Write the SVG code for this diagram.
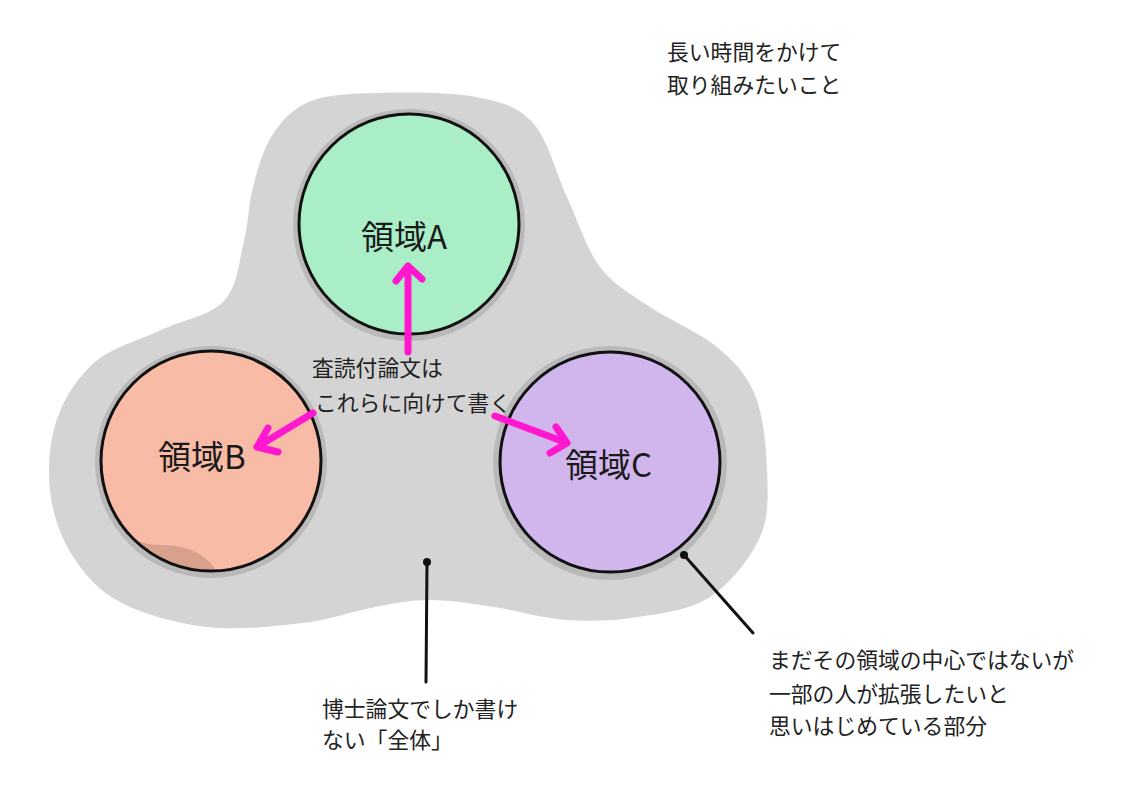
<svg xmlns="http://www.w3.org/2000/svg" width="1124" height="793" viewBox="0 0 1124 793">
<style>
.t{font-family:"Noto Sans CJK JP","Noto Sans",sans-serif;font-size:21.8px;fill:#222}
.lbl{font-family:"Noto Sans CJK JP","Noto Sans",sans-serif;font-size:33px;fill:#1a1a1a}
.halo{fill:#b9b9b9}
.ring{stroke:#111;stroke-width:3}
.arrow{fill:none;stroke:#ff18cf;stroke-width:7;stroke-linecap:round;stroke-linejoin:round}
.lead{fill:none;stroke:#111;stroke-width:3;stroke-linecap:round}
</style>
<defs>
<clipPath id="clipB"><circle cx="211" cy="461" r="110"/></clipPath>
</defs>
<rect width="1124" height="793" fill="#fff"/>
<g id="whole">
<path fill="#d4d4d4" d="M311,101 C328.7,94.2 351.5,93.7 379,93 C406.5,92.3 450.3,92 476,97 C501.7,102 517.8,106.3 533,123 C548.2,139.7 555.8,173 567,197 C578.2,221 586.2,248.7 600,267 C613.8,285.3 630.5,293.7 650,307 C669.5,320.3 699.5,332.3 717,347 C734.5,361.7 746.7,374.5 755,395 C763.3,415.5 766.2,446.3 767,470 C767.8,493.7 769.5,515.8 760,537 C750.5,558.2 730.3,583.7 710,597 C689.7,610.3 662,613.2 638,617 C614,620.8 590,621.7 566,620 C542,618.3 516.7,610.3 494,607 C471.3,603.7 449.8,600 430,600 C410.2,600 396.2,603.2 375,607 C353.8,610.8 331,619.7 303,623 C275,626.3 237.5,630.5 207,627 C176.5,623.5 142.5,614 120,602 C97.5,590 83.7,573.5 72,555 C60.3,536.5 52.5,513.7 50,491 C47.5,468.3 49.5,440.5 57,419 C64.5,397.5 77.7,376.8 95,362 C112.3,347.2 139.5,340.2 161,330 C182.5,319.8 210.2,315.8 224,301 C237.8,286.2 239.2,260 244,241 C248.8,222 248.2,204.8 253,187 C257.8,169.2 263.3,148.3 273,134 C282.7,119.7 293.3,107.8 311,101 Z"/>
</g>
<g id="nodeA">
<circle class="halo" cx="409" cy="225" r="116"/>
<circle class="ring" cx="409" cy="224" r="110" fill="#a9eec7"/>
<text class="lbl" x="361" y="249">領域A</text>
</g>
<g id="nodeB">
<circle class="halo" cx="211" cy="462" r="116"/>
<circle cx="211" cy="461" r="110" fill="#f8bba6"/>
<g clip-path="url(#clipB)">
<path d="M100,520 C120,535 140,545 160,545 C185,545 205,552 217,572 L100,580 Z" fill="#d8a18b"/>
</g>
<circle class="ring" cx="211" cy="461" r="110" fill="none"/>
<text class="lbl" x="158" y="469">領域B</text>
</g>
<g id="nodeC">
<circle class="halo" cx="610" cy="463" r="117"/>
<circle class="ring" cx="610" cy="462" r="110" fill="#d0b6ec"/>
<text class="lbl" x="565" y="477">領域C</text>
</g>
<g id="labels">
<text class="t" x="312" y="376">査読付論文は</text>
<text class="t" x="315" y="411">これらに向けて書く</text>
<text class="t" x="667" y="60">長い時間をかけて</text>
<text class="t" x="667" y="93">取り組みたいこと</text>
<text class="t" x="322" y="717">博士論文でしか書け</text>
<text class="t" x="322" y="748">ない「全体」</text>
<text class="t" x="769" y="668">まだその領域の中心ではないが</text>
<text class="t" x="769" y="702">一部の人が拡張したいと</text>
<text class="t" x="769" y="734">思いはじめている部分</text>
</g>
<g id="connectors">
<path class="arrow" d="M408,352 L408,266 M396,281 L408,266 L422,279"/>
<path class="arrow" d="M313,413 L257,447 M268,428 L257,447 L278,452"/>
<path class="arrow" d="M495,416 L567,443 M556,427 L567,443 L550,453"/>
<circle cx="427" cy="562" r="4" fill="#111"/>
<path class="lead" d="M427,562 L426,682"/>
<circle cx="684" cy="555" r="4" fill="#111"/>
<path class="lead" d="M684,555 L753,633"/>
</g>
</svg>
